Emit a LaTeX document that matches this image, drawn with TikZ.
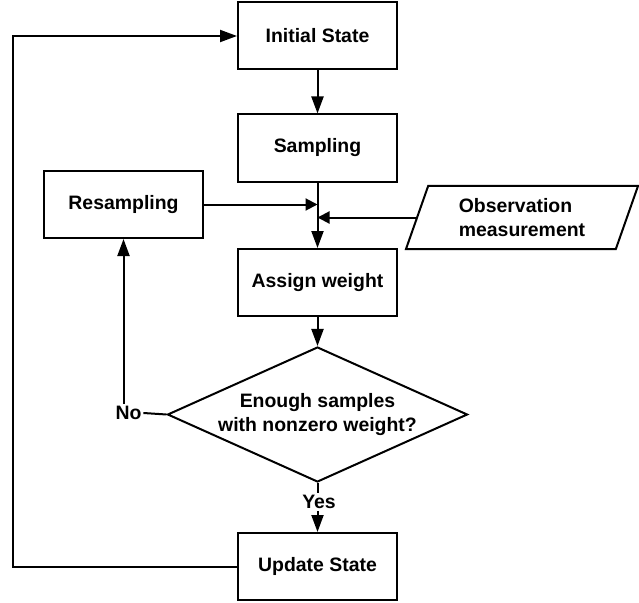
\documentclass[tikz,border=0pt]{standalone}
\usepackage{fontspec}
\setmainfont{Liberation Sans}
\usetikzlibrary{arrows.meta,shapes.geometric}

\begin{document}
\begin{tikzpicture}[x=1bp,y=-1bp,
    line width=2bp,
    font=\fontsize{19.5}{23.5}\selectfont\bfseries,
    box/.style={draw,minimum width=159bp,minimum height=67bp,inner sep=2bp},
    iobox/.style={draw,trapezium,trapezium left angle=62,trapezium right angle=118,
                  trapezium stretches body,minimum width=232bp,minimum height=63bp,
                  inner sep=2bp,align=left},
    decision/.style={draw,diamond,aspect=2.2,minimum width=300bp,minimum height=135bp,
                     inner sep=0bp,align=center},
    lbl/.style={inner sep=1bp},
    arr/.style={-{Triangle[length=17bp,width=12bp]}},
    harr/.style={-{Triangle[length=12bp,width=12bp]}}]
    \useasboundingbox (0,0) rectangle (639,603);

    \node[box]      (Init)   at (317.5,36)    {Initial State};
    \node[box]      (Samp)   at (317.5,148)   {Sampling};
    \node[box]      (Resamp) at (123.5,204.5) {Resampling};
    \node[iobox]    (Obs)    at (522,217.5)   {Observation\\measurement};
    \node[box]      (Weight) at (317.5,282.5) {Assign weight};
    \node[decision] (Enough) at (317.5,414.5) {Enough samples\\with nonzero weight?};
    \node[box]      (Update) at (317.5,566.5) {Update State};
    \node[lbl]      (No)     at (128.5,413)   {No};
    \node[lbl]      (Yes)    at (319,502)     {Yes};
    \coordinate     (back)   at (13,566.5);

    \draw [arr]  (Init)   -- (Samp);
    \draw [arr]  (Samp)   -- (Weight);
    \draw [harr] (Resamp.east) -- (Resamp.east -| Samp.south);
    \draw [harr] (Obs.west)    -- (Obs.west -| Samp.south);
    \draw [arr]  (Weight) -- (Enough);
    \draw        (Enough.west)  -- (No.east);
    \draw [arr]  (No.north -| Resamp.south) -- (Resamp.south);
    \draw        (Enough.south) -- (Yes.north -| Enough.south);
    \draw [arr]  (Yes.south -| Update.north) -- (Update.north);
    \draw [arr]  (Update.west) -- (back) |- (Init.west);
\end{tikzpicture}
\end{document}
